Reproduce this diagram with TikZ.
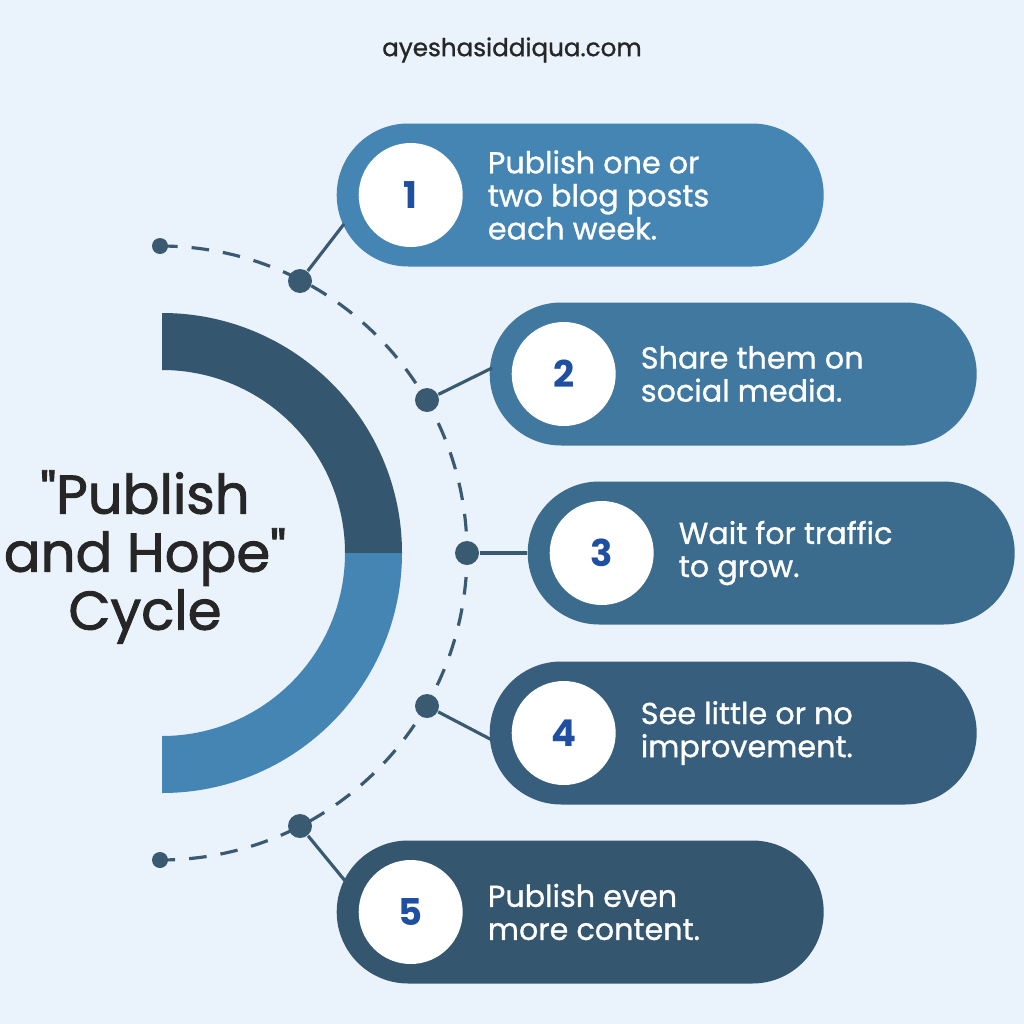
\documentclass[tikz,border=0pt]{standalone}
\usepackage{fontspec}
\setmainfont{Poppins}
\newfontfamily\titlefont[FakeBold=1.6]{Poppins}
\newfontfamily\mediumfont[FakeBold=1.0]{Poppins}
\usetikzlibrary{positioning,calc}
\definecolor{bgblue}{HTML}{EAF2FC}
\definecolor{ringdark}{HTML}{34566E}
\definecolor{ringlight}{HTML}{4585B4}
\definecolor{stepA}{HTML}{4585B4}
\definecolor{stepB}{HTML}{40789F}
\definecolor{stepC}{HTML}{3B6B8D}
\definecolor{stepD}{HTML}{375F7D}
\definecolor{stepE}{HTML}{34566E}
\definecolor{numblue}{HTML}{1F4FA0}
\definecolor{linegray}{HTML}{3A5A72}
\begin{document}
\begin{tikzpicture}[x=0.01cm,y=-0.01cm,
    pill/.style={rounded corners=71.5*0.01cm, minimum width=487*0.01cm, minimum height=143*0.01cm, inner sep=0pt},
    num/.style={circle, fill=white, minimum size=104*0.01cm, inner sep=0pt, font=\fontsize{10.5pt}{12pt}\selectfont\bfseries, text=numblue},
    steptext/.style={text=white, align=left, anchor=west, font=\mediumfont\fontsize{8.6pt}{9.4pt}\selectfont},
    dot/.style={circle, fill=linegray, minimum size=24*0.01cm, inner sep=0pt},
    enddot/.style={circle, fill=linegray, minimum size=16*0.01cm, inner sep=0pt},
    link/.style={linegray, line width=0.9pt}]
  \fill[bgblue] (0,0) rectangle (1024,1024);
  \useasboundingbox (0,0) rectangle (1024,1024);
  % header
  \node[font=\mediumfont\fontsize{7pt}{8pt}\selectfont, text=black!85] (url) at (512,50) {ayeshasiddiqua.com};
  % half ring
  \fill[ringdark] (162,313) arc[start angle=-90, end angle=0, radius=240] -- (345,553)
    arc[start angle=0, end angle=-90, radius=183] -- cycle;
  \fill[ringlight] (402,553) arc[start angle=0, end angle=90, radius=240] -- (162,736)
    arc[start angle=90, end angle=0, radius=183] -- cycle;
  \node[font=\titlefont\fontsize{15.5pt}{16.5pt}\selectfont, text=black!85, align=center] (title) at (145,557) {"Publish\\and Hope"\\Cycle};
  % dashed arc
  \draw[linegray, line width=0.9pt, dash pattern=on 5pt off 4pt] (160,246) arc[start angle=-90, end angle=90, radius=307];
  \node[enddot] (top) at (160,246) {};
  \node[enddot] (bot) at (160,860) {};
  % steps
  \foreach \i/\px/\py/\col/\dx/\dy/\txt in {
      1/336/195/stepA/300/281/{Publish one or\\two blog posts\\each week.},
      2/489/374/stepB/427/400/{Share them on\\social media.},
      3/527/553/stepC/467/553/{Wait for traffic\\to grow.},
      4/489/733/stepD/427/706/{See little or no\\improvement.},
      5/336/912/stepE/300/826/{Publish even\\more content.}} {
    \node[pill, fill=\col, anchor=west] (p\i) at (\px,\py) {};
    \node[dot] (d\i) at (\dx,\dy) {};
    \node[num, right=22*0.01cm of p\i.west] (n\i) {\i};
    \node[steptext, right=12*0.01cm of n\i] (t\i) {\txt};
  }
  \draw[link] (d1) -- (344,224);
  \draw[link] (d2) -- (492,368);
  \draw[link] (d3) -- (p3.west);
  \draw[link] (d4) -- (492,740);
  \draw[link] (d5) -- (346,882);
\end{tikzpicture}
\end{document}
